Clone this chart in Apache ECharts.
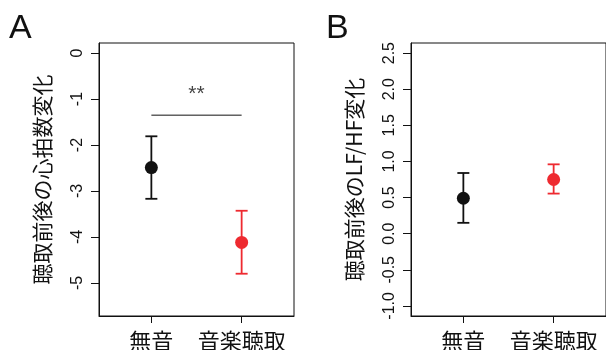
<!DOCTYPE html>
<html><head><meta charset="utf-8">
<script src="https://cdn.jsdelivr.net/npm/echarts@6/dist/echarts.min.js"></script>
<style>html,body{margin:0;padding:0;background:#fff}#c{width:606px;height:350px}</style>
</head><body><div id="c"></div>
<script>
const categories = ['無音', '音楽聴取'];
const catPos = [1, 2];
const hrMean = [-2.49, -4.12];
const hrLow = [-3.17, -4.80];
const hrHigh = [-1.81, -3.43];
const lfMean = [0.49, 0.75];
const lfLow = [0.15, 0.555];
const lfHigh = [0.84, 0.96];
const hrTicks = [0, -1, -2, -3, -4, -5];
const lfTicks = [-1, -0.5, 0, 0.5, 1, 1.5, 2, 2.5];
const sigLevel = -1.35;
const sigText = '**';
const sigTextY = -0.9;
const pointColors = ['#111111', '#ee2a30'];
const hrTitle = '聴取前後の心拍数変化';
const lfTitle = '聴取前後のLF/HF変化';

const FONT = '"Liberation Sans", Arial, "Noto Sans CJK JP", sans-serif';
const CJK = '"Noto Sans CJK JP", "Liberation Sans", sans-serif';

function errRender(params, api) {
  const x = api.value(0), lo = api.value(1), hi = api.value(2);
  const a = api.coord([x, lo]), b = api.coord([x, hi]);
  const w = 6;
  const style = { stroke: pointColors[params.dataIndex], lineWidth: 1.8 };
  return { type: 'group', children: [
    { type: 'line', shape: { x1: a[0], y1: a[1], x2: b[0], y2: b[1] }, style },
    { type: 'line', shape: { x1: a[0] - w, y1: a[1], x2: a[0] + w, y2: a[1] }, style },
    { type: 'line', shape: { x1: b[0] - w, y1: b[1], x2: b[0] + w, y2: b[1] }, style }
  ]};
}

function xAxisCfg(gi) {
  return {
    type: 'value', gridIndex: gi, min: 0.42, max: 2.58,
    axisLine: { show: true, onZero: false, lineStyle: { color: '#111', width: 1 } },
    axisTick: { show: true, customValues: catPos, length: 7, lineStyle: { color: '#111', width: 1 } },
    axisLabel: { show: true, customValues: catPos, margin: 14, fontSize: 22, color: '#111', fontFamily: CJK,
      formatter: v => categories[Math.round(v) - 1] },
    splitLine: { show: false }
  };
}
function yAxisCfg(gi, min, max, ticks, dec, title) {
  return {
    type: 'value', gridIndex: gi, min: min, max: max,
    name: title, nameLocation: 'middle', nameRotate: 90, nameGap: 46,
    nameTextStyle: { fontSize: 21, color: '#111', fontFamily: CJK },
    axisLine: { show: true, onZero: false, lineStyle: { color: '#111', width: 1 } },
    axisTick: { show: true, customValues: ticks, length: 8, lineStyle: { color: '#111', width: 1 } },
    axisLabel: { show: true, customValues: ticks, rotate: 90, margin: 13, fontSize: 16, color: '#111', fontFamily: FONT,
      formatter: v => dec ? Number(v).toFixed(dec) : String(Math.round(v)) },
    splitLine: { show: false }
  };
}
function pts(xs, ys) { return xs.map((x, i) => [x, ys[i]]); }
function errs(xs, lo, hi) { return xs.map((x, i) => [x, lo[i], hi[i]]); }

const chart = echarts.init(document.getElementById('c'), null, { renderer: 'canvas' });
chart.setOption({
  animation: false,
  backgroundColor: '#fff',
  grid: [
    { left: 99, top: 43, width: 195, height: 273, show: true, borderColor: '#111', borderWidth: 1, backgroundColor: 'transparent', containLabel: false, outerBoundsMode: 'none' },
    { left: 411, top: 43, width: 195, height: 273, show: true, borderColor: '#111', borderWidth: 1, backgroundColor: 'transparent', containLabel: false, outerBoundsMode: 'none' }
  ],
  xAxis: [xAxisCfg(0), xAxisCfg(1)],
  yAxis: [
    yAxisCfg(0, -5.72, 0.22, hrTicks, 0, hrTitle),
    yAxisCfg(1, -1.14, 2.64, lfTicks, 1, lfTitle)
  ],
  graphic: [
    { type: 'text', left: 9, top: 12, style: { text: 'A', fontSize: 34, fill: '#111', fontFamily: FONT } },
    { type: 'text', left: 326, top: 12, style: { text: 'B', fontSize: 34, fill: '#111', fontFamily: FONT } }
  ],
  series: [
    { type: 'custom', xAxisIndex: 0, yAxisIndex: 0, renderItem: errRender, data: errs(catPos, hrLow, hrHigh), encode: { x: 0, y: [1, 2] }, z: 2 },
    { type: 'scatter', xAxisIndex: 0, yAxisIndex: 0, data: pts(catPos, hrMean), symbolSize: 13, z: 3,
      itemStyle: { color: p => pointColors[p.dataIndex], opacity: 1 } },
    { type: 'line', xAxisIndex: 0, yAxisIndex: 0, data: pts(catPos, [sigLevel, sigLevel]), symbol: 'none',
      lineStyle: { color: '#111', width: 1 }, silent: true },
    { type: 'scatter', xAxisIndex: 0, yAxisIndex: 0, data: [[(catPos[0] + catPos[1]) / 2, sigTextY]], symbolSize: 1,
      itemStyle: { color: 'transparent' },
      label: { show: true, position: 'inside', formatter: sigText, fontSize: 21, color: '#111', fontFamily: FONT } },
    { type: 'custom', xAxisIndex: 1, yAxisIndex: 1, renderItem: errRender, data: errs(catPos, lfLow, lfHigh), encode: { x: 0, y: [1, 2] }, z: 2 },
    { type: 'scatter', xAxisIndex: 1, yAxisIndex: 1, data: pts(catPos, lfMean), symbolSize: 13, z: 3,
      itemStyle: { color: p => pointColors[p.dataIndex], opacity: 1 } }
  ]
});
</script></body></html>
